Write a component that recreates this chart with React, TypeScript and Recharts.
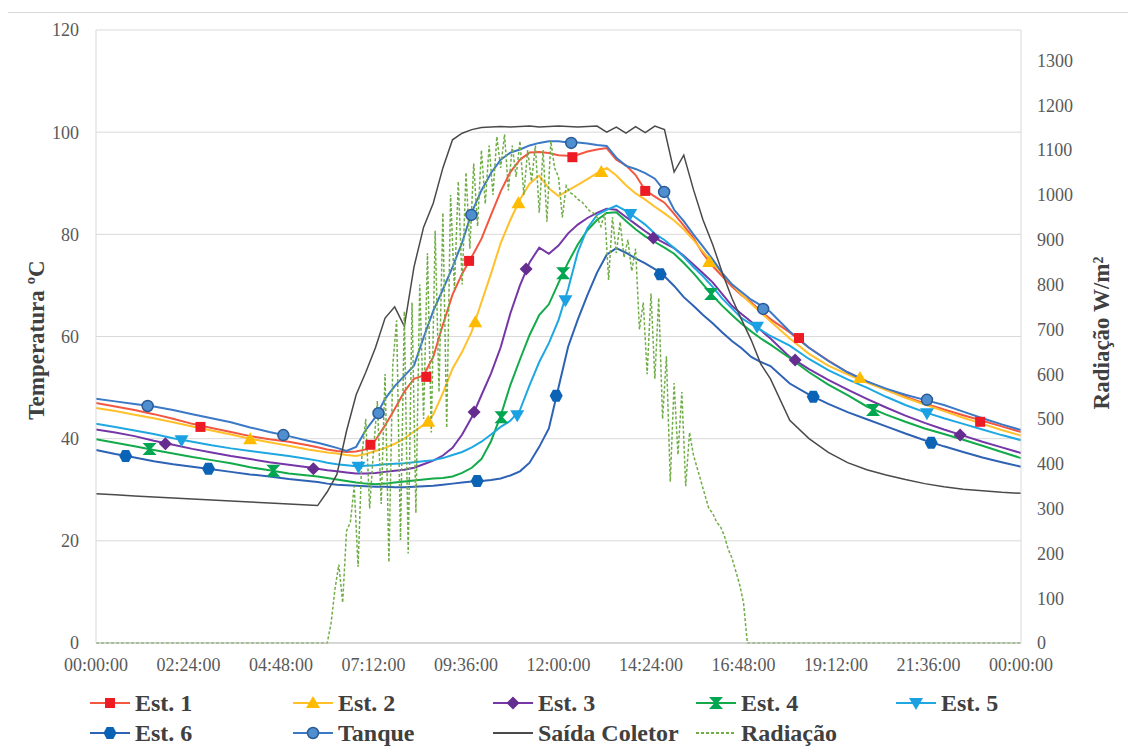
import { ComposedChart, Line, Scatter, XAxis, YAxis, CartesianGrid } from 'recharts'

// hour of day for the temperature readings
const hours = [0, 0.5, 1, 1.5, 2, 2.5, 3, 3.5, 4, 4.5, 5, 5.5,
  5.75, 6, 6.25, 6.5, 6.75, 7, 7.25, 7.5, 7.75, 8, 8.25, 8.5, 8.75, 9, 9.25, 9.5, 9.75, 10,
  10.25, 10.5, 10.75, 11, 11.25, 11.5, 11.75, 12, 12.25, 12.5, 12.75, 13, 13.25, 13.5, 13.75, 14,
  14.25, 14.5, 14.75, 15, 15.25, 15.5, 15.75, 16, 16.25, 16.5, 16.75, 17, 17.25, 17.5,
  18, 18.5, 19, 19.5, 20, 20.5, 21, 21.5, 22, 22.5, 23, 23.5, 24]

const est1 = [47.0, 46.3, 45.6, 44.8, 43.9, 42.9, 42.1, 41.3, 40.5, 39.9, 39.4, 38.7,
  38.3, 37.9, 37.6, 37.4, 37.5, 37.9, 39.7, 42.6, 45.8, 49.2, 51.7, 52.4, 56.0, 62.3, 68.2, 72.3, 75.6, 79.1,
  83.8, 88.4, 92.2, 94.6, 96.0, 96.1, 95.9, 95.5, 95.4, 95.6, 96.2, 96.6, 96.9, 94.6, 93.5, 91.6,
  88.6, 87.4, 86.2, 84.0, 81.7, 79.3, 76.2, 73.8, 71.8, 69.8, 68.1, 66.7, 64.9, 63.4,
  60.8, 57.8, 55.3, 53.0, 51.2, 49.6, 48.2, 46.9, 45.7, 44.6, 43.5, 42.4, 41.3]

const est2 = [46.0, 45.4, 44.7, 44.0, 43.2, 42.4, 41.6, 40.8, 40.0, 39.3, 38.6, 37.9,
  37.6, 37.3, 37.1, 36.8, 36.6, 37.0, 37.6, 38.2, 39.0, 40.0, 41.4, 42.7, 44.7, 48.9, 53.7, 57.0, 61.0, 66.7,
  72.3, 78.3, 82.8, 86.8, 89.9, 91.5, 89.0, 87.5, 88.6, 89.7, 90.8, 92.0, 93.0, 91.5, 89.6, 88.0,
  86.8, 85.4, 84.1, 82.7, 81.0, 78.9, 76.6, 74.4, 72.3, 70.2, 68.2, 66.4, 64.7, 63.0,
  59.6, 56.6, 54.3, 52.6, 51.0, 49.5, 48.0, 46.7, 45.4, 44.1, 42.9, 41.7, 40.6]

const est3 = [41.8, 41.2, 40.5, 39.6, 38.8, 38.0, 37.3, 36.6, 36.0, 35.4, 34.9, 34.4,
  34.1, 33.8, 33.6, 33.4, 33.2, 33.2, 33.3, 33.5, 33.7, 33.9, 34.3, 35.0, 35.7, 36.7, 38.2, 40.8, 44.2, 48.5,
  52.8, 57.9, 64.5, 70.0, 74.5, 77.4, 76.2, 77.8, 80.2, 81.9, 83.2, 84.2, 85.0, 84.8, 83.4, 82.0,
  80.6, 79.3, 78.3, 77.3, 75.8, 74.1, 72.4, 70.6, 68.3, 66.0, 64.4, 62.9, 61.2, 59.6,
  56.0, 53.6, 51.5, 49.6, 47.8, 46.1, 44.5, 43.1, 41.8, 40.6, 39.4, 38.3, 37.2]

const est4 = [39.9, 39.2, 38.5, 37.8, 37.1, 36.4, 35.8, 35.2, 34.4, 33.8, 33.2, 32.8,
  32.6, 32.3, 32.0, 31.7, 31.4, 31.2, 31.1, 31.2, 31.4, 31.6, 31.8, 32.0, 32.2, 32.3, 32.6, 33.3, 34.3, 36.0,
  39.5, 44.5, 50.5, 55.5, 60.3, 64.2, 66.3, 70.5, 74.5, 78.0, 80.8, 82.8, 84.2, 84.3, 82.6, 81.0,
  79.6, 78.5, 77.4, 76.2, 74.4, 72.4, 70.2, 68.0, 66.0, 64.2, 62.5, 61.0, 59.6, 58.4,
  55.8, 53.0, 50.6, 48.5, 46.3, 44.7, 43.3, 42.0, 40.9, 39.8, 38.6, 37.4, 36.2]

const est5 = [42.9, 42.3, 41.6, 40.9, 40.1, 39.4, 38.7, 38.1, 37.6, 37.1, 36.6, 36.0,
  35.7, 35.3, 35.0, 34.8, 34.6, 34.7, 34.8, 35.0, 35.1, 35.2, 35.4, 35.6, 35.8, 36.2, 36.8, 37.4, 38.3, 39.4,
  40.8, 42.3, 43.5, 45.6, 50.5, 55.0, 58.7, 63.2, 69.3, 76.5, 81.2, 83.8, 84.8, 85.6, 84.6, 83.3,
  81.9, 80.1, 78.9, 77.3, 75.6, 73.6, 71.8, 69.7, 67.4, 65.5, 63.6, 62.4, 61.3, 60.1,
  58.2, 55.6, 53.4, 51.6, 50.0, 48.2, 46.6, 45.2, 44.0, 42.9, 41.8, 40.7, 39.7]

const est6 = [37.8, 37.0, 36.3, 35.6, 35.0, 34.5, 34.0, 33.5, 33.0, 32.6, 32.1, 31.7,
  31.5, 31.2, 31.0, 30.9, 30.8, 30.7, 30.6, 30.6, 30.5, 30.5, 30.6, 30.7, 30.8, 31.0, 31.2, 31.4, 31.6, 31.7,
  31.9, 32.2, 32.8, 33.6, 35.3, 38.4, 42.0, 50.0, 58.0, 63.3, 68.1, 72.5, 76.0, 77.3, 76.4, 75.3,
  74.3, 73.2, 71.8, 69.9, 67.7, 66.0, 64.2, 62.6, 60.8, 59.1, 57.7, 56.0, 55.0, 54.2,
  50.8, 48.6, 46.8, 45.2, 43.8, 42.4, 41.0, 39.7, 38.5, 37.4, 36.3, 35.4, 34.5]

const tanque = [47.8, 47.3, 46.8, 46.3, 45.6, 44.8, 44.0, 43.2, 42.2, 41.3, 40.5, 39.6,
  39.2, 38.7, 38.2, 37.6, 38.4, 41.7, 44.2, 47.8, 50.3, 52.3, 54.3, 59.8, 65.0, 69.2, 73.6, 78.4, 84.3, 88.6,
  92.0, 94.6, 96.0, 96.6, 97.4, 97.9, 98.2, 98.2, 98.0, 98.0, 97.8, 97.5, 97.3, 95.0, 93.4, 92.8,
  92.0, 90.9, 88.5, 84.8, 82.6, 80.0, 77.6, 75.1, 72.4, 70.2, 68.7, 67.2, 66.1, 64.8,
  61.0, 57.8, 55.2, 53.0, 51.2, 49.8, 48.6, 47.6, 46.6, 45.3, 44.0, 42.8, 41.7]

const saida = [29.2, 29.0, 28.8, 28.6, 28.4, 28.2, 28.0, 27.8, 27.6, 27.4, 27.2, 27.0,
  26.9, 29.6, 33.0, 41.5, 48.6, 53.0, 57.8, 63.6, 65.8, 62.0, 73.6, 81.4, 86.1, 93.0, 98.5, 99.8, 100.5, 100.9,
  101.0, 101.1, 101.0, 101.1, 101.2, 101.0, 101.1, 101.2, 101.1, 101.0, 101.1, 101.2, 100.0, 101.0, 99.8, 101.1,
  99.9, 101.2, 100.5, 92.2, 95.5, 88.8, 82.8, 78.0, 72.5, 67.5, 63.3, 59.3, 54.6, 51.7,
  43.6, 40.0, 37.3, 35.3, 33.9, 32.9, 32.0, 31.2, 30.6, 30.1, 29.8, 29.5, 29.3]

// radiation, W/m², finer time step
const radHours = [0,
  6.0, 6.1, 6.2, 6.3, 6.4, 6.5, 6.6, 6.7, 6.8, 6.9, 7.0, 7.1, 7.2, 7.3, 7.4, 7.5, 7.6, 7.7, 7.8, 7.9,
  8.0, 8.1, 8.2, 8.3, 8.4, 8.5, 8.6, 8.7, 8.8, 8.9, 9.0, 9.1, 9.2, 9.3, 9.4, 9.5, 9.6, 9.7, 9.8, 9.9,
  10.0, 10.1, 10.2, 10.3, 10.4, 10.5, 10.6, 10.7, 10.8, 10.9, 11.0, 11.1, 11.2, 11.3, 11.4, 11.5, 11.6, 11.7, 11.8, 11.9,
  12.0, 12.1, 12.2, 12.3, 12.4, 12.5, 12.6, 12.7, 12.8, 12.9, 13.0, 13.1, 13.2, 13.3, 13.4, 13.5, 13.6, 13.7, 13.8, 13.9,
  14.0, 14.1, 14.2, 14.3, 14.4, 14.5, 14.6, 14.7, 14.8, 14.9, 15.0, 15.1, 15.2, 15.3, 15.4, 15.5, 15.6, 15.7, 15.8, 15.9,
  16.0, 16.1, 16.2, 16.3, 16.4, 16.5, 16.6, 16.7, 16.8, 16.9,
  24]

const radiacao = [0,
  0, 45, 120, 175, 90, 250, 270, 350, 170, 420, 500, 300, 430, 540, 310, 600, 180, 620, 720, 230,
  740, 200, 760, 290, 800, 500, 870, 470, 920, 560, 960, 480, 1000, 790, 1030, 800, 1050, 880, 1070, 930,
  1100, 980, 1110, 1000, 1130, 1060, 1135, 1010, 1110, 1040, 1120, 1000, 1100, 1030, 1110, 960, 1100, 940, 1120, 1060,
  1040, 950, 1020, 1005, 1000, 990, 985, 975, 965, 960, 950, 930, 960, 810, 950, 870, 940, 860, 900, 830,
  880, 700, 760, 600, 780, 590, 770, 500, 640, 360, 580, 420, 560, 350, 470, 420, 390, 360, 330, 300,
  290, 270, 260, 240, 210, 190, 160, 130, 90, 0,
  0]

// marker positions (hour, value)
const est1MarkT = [2.71, 7.12, 8.57, 9.68, 12.36, 14.25, 18.24, 22.94]
const est1MarkV = [42.3, 38.8, 52.1, 74.8, 95.1, 88.5, 59.7, 43.3]
const est2MarkT = [4.0, 8.62, 9.84, 10.96, 13.11, 15.91, 19.82]
const est2MarkV = [39.9, 43.3, 62.8, 86.1, 92.2, 74.6, 51.9]
const est3MarkT = [1.8, 5.64, 9.81, 11.16, 14.46, 18.14, 22.42]
const est3MarkV = [39.0, 34.1, 45.2, 73.2, 79.3, 55.4, 40.7]
const est4MarkT = [1.39, 4.6, 10.52, 12.12, 15.96, 20.16]
const est4MarkV = [38.0, 33.7, 44.2, 72.4, 68.3, 45.6]
const est5MarkT = [2.22, 6.81, 10.93, 12.18, 13.86, 17.15, 21.56]
const est5MarkV = [39.7, 34.5, 44.6, 67.1, 84.0, 61.9, 45.0]
const est6MarkT = [0.77, 2.92, 9.89, 11.94, 14.64, 18.61, 21.67]
const est6MarkV = [36.6, 34.1, 31.7, 48.4, 72.2, 48.2, 39.2]
const tanqueMarkT = [1.34, 4.86, 7.33, 9.74, 12.33, 14.74, 17.31, 21.56]
const tanqueMarkV = [46.4, 40.7, 45.0, 83.8, 97.9, 88.3, 65.4, 47.6]

const xTicks = [0, 2.4, 4.8, 7.2, 9.6, 12, 14.4, 16.8, 19.2, 21.6, 24]
const leftTicks = [0, 20, 40, 60, 80, 100, 120]
const rightTicks = [0, 100, 200, 300, 400, 500, 600, 700, 800, 900, 1000, 1100, 1200, 1300]

const SERIF = "Liberation Serif, Times New Roman, serif"

type Kind = 'square' | 'triangle' | 'diamond' | 'hourglass' | 'down' | 'hexagon' | 'circle'

const series = [
  { key: 'est1', name: 'Est. 1', values: est1, color: '#f4573f', mark: '#ed1c24', kind: 'square' as Kind, markT: est1MarkT, markV: est1MarkV },
  { key: 'est2', name: 'Est. 2', values: est2, color: '#ffc02a', mark: '#ffbb00', kind: 'triangle' as Kind, markT: est2MarkT, markV: est2MarkV },
  { key: 'est3', name: 'Est. 3', values: est3, color: '#7537a8', mark: '#662d91', kind: 'diamond' as Kind, markT: est3MarkT, markV: est3MarkV },
  { key: 'est4', name: 'Est. 4', values: est4, color: '#13aa4a', mark: '#00a650', kind: 'hourglass' as Kind, markT: est4MarkT, markV: est4MarkV },
  { key: 'est5', name: 'Est. 5', values: est5, color: '#1ea7e1', mark: '#1ba1e2', kind: 'down' as Kind, markT: est5MarkT, markV: est5MarkV },
  { key: 'est6', name: 'Est. 6', values: est6, color: '#2d62b4', mark: '#0b63b6', kind: 'hexagon' as Kind, markT: est6MarkT, markV: est6MarkV },
  { key: 'tanque', name: 'Tanque', values: tanque, color: '#3b78c6', mark: '#4f8fd0', kind: 'circle' as Kind, markT: tanqueMarkT, markV: tanqueMarkV },
]

const tempRows = hours.map((t, i) => {
  const row: Record<string, number> = { t, saida: saida[i] }
  series.forEach(s => { row[s.key] = s.values[i] })
  return row
})
const radRows = radHours.map((t, i) => ({ t, r: radiacao[i] }))

const fmtTime = (h: number) => {
  const total = Math.round(h * 60) % (24 * 60)
  const hh = Math.floor(total / 60)
  const mm = total % 60
  return `${String(hh).padStart(2, '0')}:${String(mm).padStart(2, '0')}:00`
}

function Marker({ kind, x, y, fill }: { kind: Kind; x: number; y: number; fill: string }) {
  if (x == null || y == null) return null
  switch (kind) {
    case 'square':
      return <rect x={x - 5} y={y - 5} width={10} height={10} fill={fill} />
    case 'triangle':
      return <polygon points={`${x},${y - 7} ${x + 7},${y + 5} ${x - 7},${y + 5}`} fill={fill} />
    case 'down':
      return <polygon points={`${x - 7},${y - 5} ${x + 7},${y - 5} ${x},${y + 7}`} fill={fill} />
    case 'diamond':
      return <polygon points={`${x},${y - 6.5} ${x + 6.5},${y} ${x},${y + 6.5} ${x - 6.5},${y}`} fill={fill} />
    case 'hourglass':
      return <polygon points={`${x - 7},${y - 6} ${x + 7},${y - 6} ${x + 1.5},${y} ${x + 7},${y + 6} ${x - 7},${y + 6} ${x - 1.5},${y}`} fill={fill} />
    case 'hexagon':
      return <polygon points={`${x - 6.5},${y} ${x - 3.3},${y - 6} ${x + 3.3},${y - 6} ${x + 6.5},${y} ${x + 3.3},${y + 6} ${x - 3.3},${y + 6}`} fill={fill} />
    case 'circle':
      return <circle cx={x} cy={y} r={5.5} fill={fill} stroke="#2a5a95" strokeWidth={1.5} />
  }
  return null
}

const legendItems = [
  { name: 'Est. 1', color: '#f4573f', mark: '#ed1c24', kind: 'square', left: 82, row: 0 },
  { name: 'Est. 2', color: '#ffc02a', mark: '#ffbb00', kind: 'triangle', left: 285, row: 0 },
  { name: 'Est. 3', color: '#7537a8', mark: '#662d91', kind: 'diamond', left: 485, row: 0 },
  { name: 'Est. 4', color: '#13aa4a', mark: '#00a650', kind: 'hourglass', left: 688, row: 0 },
  { name: 'Est. 5', color: '#1ea7e1', mark: '#1ba1e2', kind: 'down', left: 888, row: 0 },
  { name: 'Est. 6', color: '#2d62b4', mark: '#0b63b6', kind: 'hexagon', left: 82, row: 1 },
  { name: 'Tanque', color: '#3b78c6', mark: '#4f8fd0', kind: 'circle', left: 285, row: 1 },
  { name: 'Saída Coletor', color: '#4a4a4a', mark: '', kind: '', left: 485, row: 1 },
  { name: 'Radiação', color: '#70ad47', mark: '', kind: 'dash', left: 688, row: 1 },
]

function LegendItem({ item }: { item: typeof legendItems[number] }) {
  const top = item.row === 0 ? 676 : 706
  return (
    <div style={{ position: 'absolute', left: item.left, top, height: 28, display: 'flex', alignItems: 'center' }}>
      <svg width={40} height={20}>
        <line x1={0} x2={40} y1={10} y2={10} stroke={item.color} strokeWidth={2}
          strokeDasharray={item.kind === 'dash' ? '3 2' : undefined} />
        {item.mark && <Marker kind={item.kind as Kind} x={20} y={10} fill={item.mark} />}
      </svg>
      <span style={{ marginLeft: 5, fontFamily: SERIF, fontWeight: 'bold', fontSize: 24, color: '#404040', whiteSpace: 'nowrap' }}>
        {item.name}
      </span>
    </div>
  )
}

const titleStyle = {
  position: 'absolute' as const,
  fontFamily: SERIF,
  fontWeight: 'bold' as const,
  fontSize: 23,
  color: '#404040',
  whiteSpace: 'nowrap' as const,
  transform: 'translate(-50%, -50%) rotate(-90deg)',
}

export default function App() {
  const tick = { fontSize: 18, fill: '#595959', fontFamily: SERIF }
  return (
    <div style={{ position: 'relative', width: 1122, height: 740, border: '1px solid #d9d9d9', margin: '4px 0 0 -1px', background: '#fff', fontFamily: SERIF }}>
      <ComposedChart width={1120} height={730} data={tempRows} margin={{ top: 17, right: 0, left: 0, bottom: 0 }}
        style={{ fontFamily: SERIF }}>
        <CartesianGrid yAxisId="left" vertical={false} stroke="#d9d9d9" />
        <XAxis dataKey="t" type="number" domain={[0, 24]} ticks={xTicks} interval={0} tickFormatter={fmtTime}
          height={100} tickLine={false} tickMargin={9} axisLine={{ stroke: '#bfbfbf' }} tick={tick} fontFamily={SERIF} />
        <YAxis yAxisId="left" domain={[0, 120]} ticks={leftTicks} width={88} tickLine={false} tickMargin={11}
          axisLine={{ stroke: '#d9d9d9' }} tick={tick} fontFamily={SERIF} />
        <YAxis yAxisId="right" orientation="right" domain={[0, 1368]} ticks={rightTicks} width={107} tickLine={false}
          tickMargin={10} axisLine={{ stroke: '#d9d9d9' }} tick={tick} fontFamily={SERIF} />
        {series.map(s => (
          <Line key={s.key} yAxisId="left" type="linear" dataKey={s.key} stroke={s.color} strokeWidth={2}
            dot={false} activeDot={false} isAnimationActive={false} />
        ))}
        <Line yAxisId="left" type="linear" dataKey="saida" stroke="#4a4a4a" strokeWidth={1.5}
          dot={false} activeDot={false} isAnimationActive={false} />
        <Line yAxisId="right" data={radRows} type="linear" dataKey="r" stroke="#70ad47" strokeWidth={1.5}
          strokeDasharray="3 2" dot={false} activeDot={false} isAnimationActive={false} />
        {series.map(s => (
          <Scatter key={s.key + '-m'} yAxisId="left" dataKey="v" isAnimationActive={false}
            data={s.markT.map((t, i) => ({ t, v: s.markV[i] }))}
            shape={(p: any) => <Marker kind={s.kind} x={p.cx} y={p.cy} fill={s.mark} />} />
        ))}
      </ComposedChart>
      <div style={{ ...titleStyle, left: 29, top: 327 }}>Temperatura ºC</div>
      <div style={{ ...titleStyle, left: 1094, top: 320 }}>Radiação W/m²</div>
      {legendItems.map(item => <LegendItem key={item.name} item={item} />)}
    </div>
  )
}
